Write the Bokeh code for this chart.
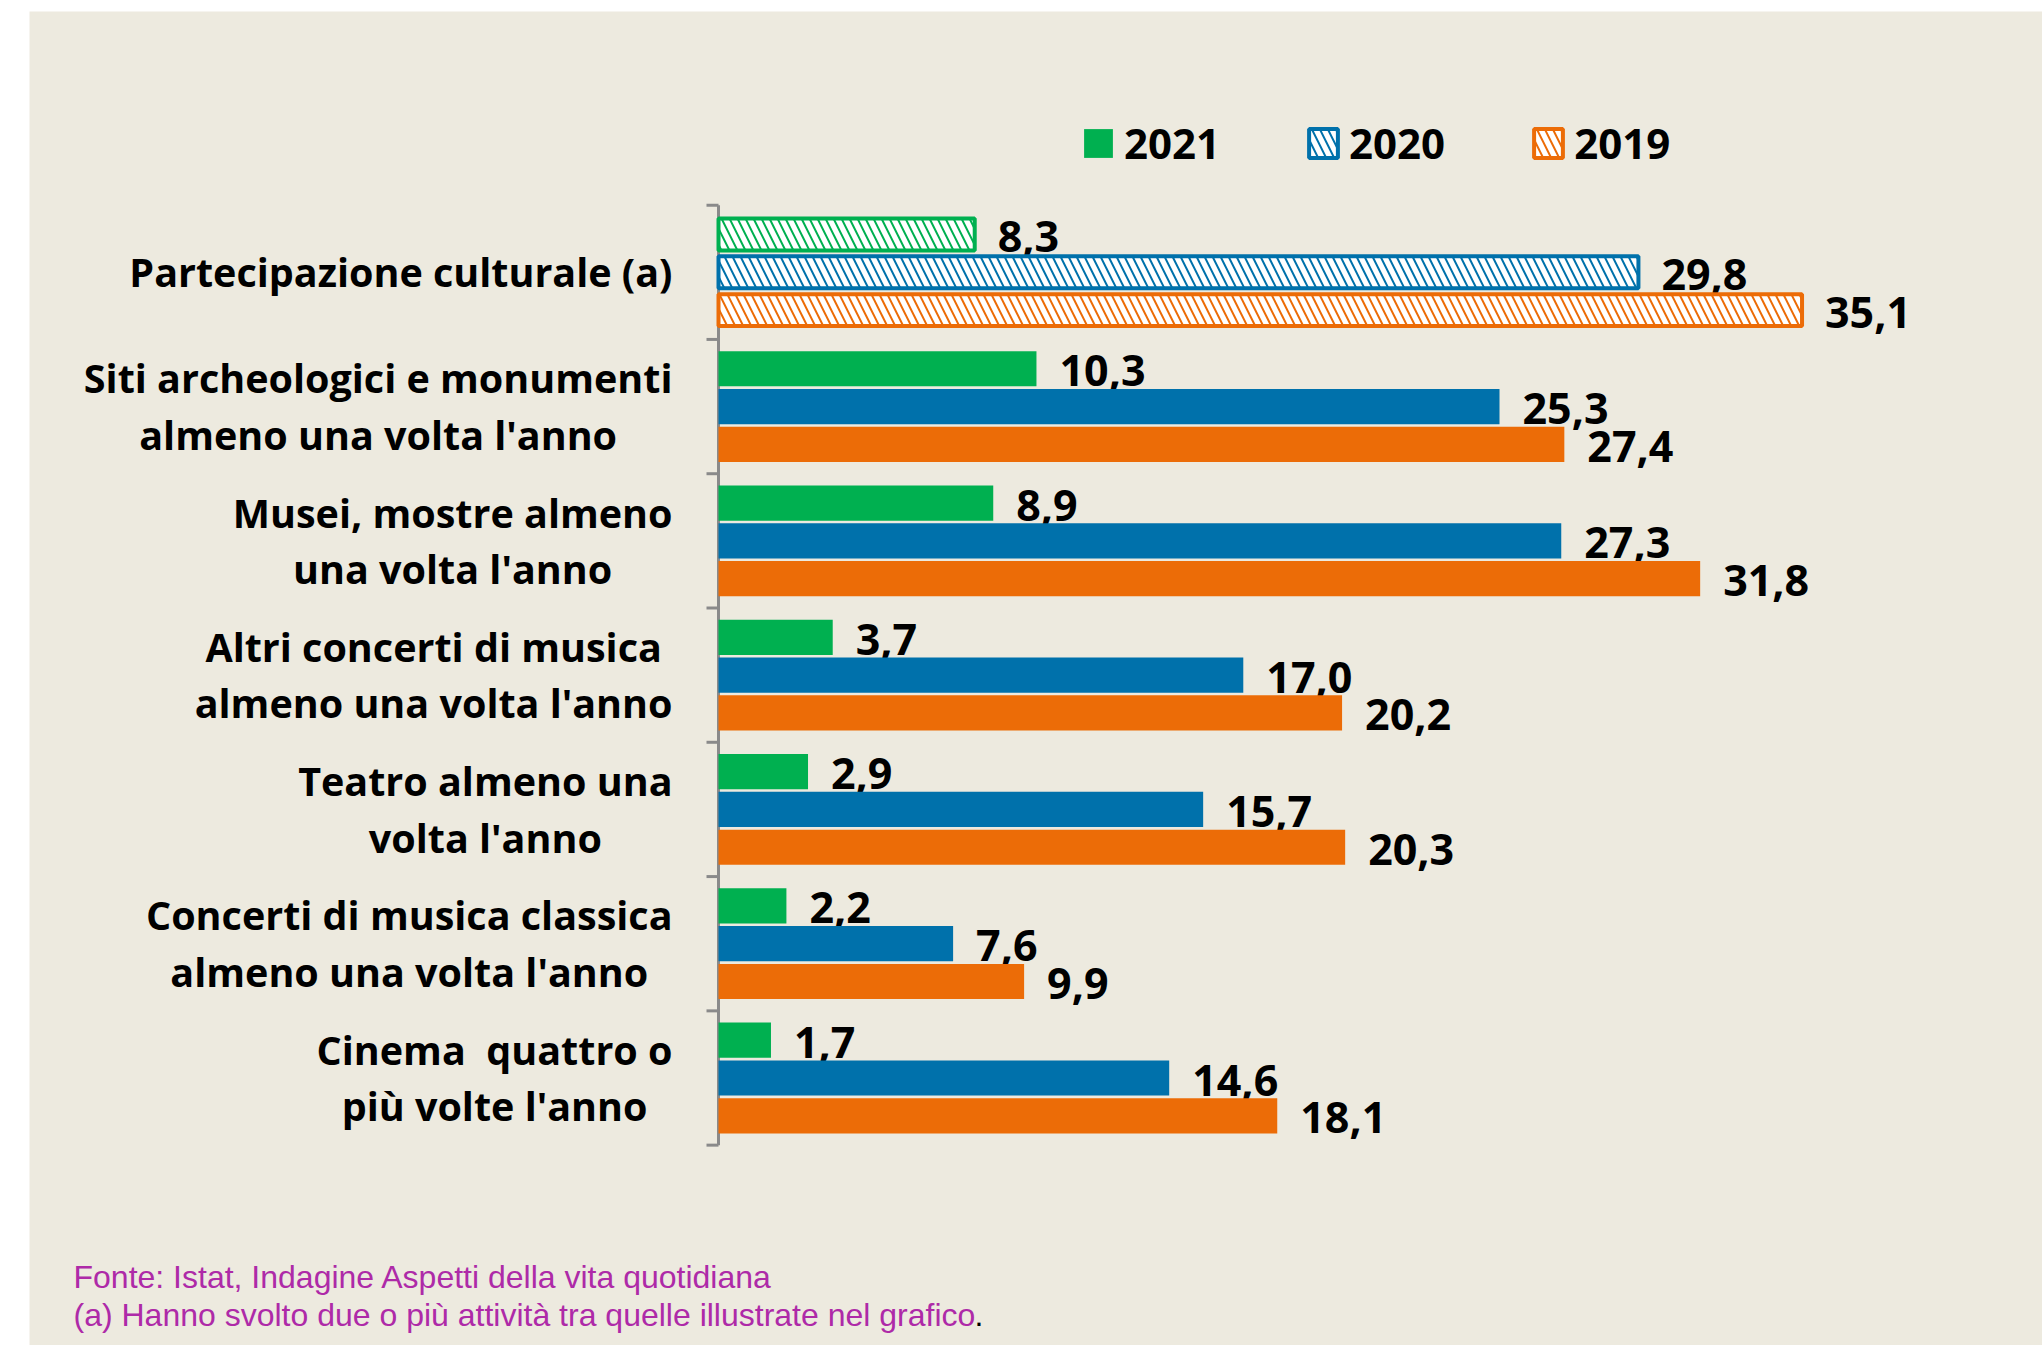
from bokeh.plotting import figure
from bokeh.models import (Range1d, Legend, LegendItem, Label,
                          ColumnDataSource, Spacer)
from bokeh.layouts import column, row
from bokeh.core.properties import value
from bokeh.embed import file_html
from bokeh.resources import INLINE
import numpy as np

# ---------------- data ----------------
categories = [
    "Partecipazione culturale (a)",
    "Siti archeologici e monumenti\nalmeno una volta l'anno",
    "Musei, mostre almeno\nuna volta l'anno",
    "Altri concerti di musica\nalmeno una volta l'anno",
    "Teatro almeno una\nvolta l'anno",
    "Concerti di musica classica\nalmeno una volta l'anno",
    "Cinema \u00a0quattro o\npiù volte l'anno",
]
years = ["2021", "2020", "2019"]
v2021 = [8.3, 10.3, 8.9, 3.7, 2.9, 2.2, 1.7]
v2020 = [29.8, 25.3, 27.3, 17.0, 15.7, 7.6, 14.6]
v2019 = [35.1, 27.4, 31.8, 20.2, 20.3, 9.9, 18.1]
series = {"2021": v2021, "2020": v2020, "2019": v2019}
colors = {"2021": "#00B050", "2020": "#0071AB", "2019": "#EC6C07"}
source_note = "Fonte: Istat, Indagine Aspetti della vita quotidiana"
note_a = "(a) Hanno svolto due o più attività tra quelle illustrate nel grafico"

BG = "#EDEADF"
FONT = "Open Sans"
AXIS_GRAY = "#8A8A8A"

n = len(categories)
centers = np.arange(n)[::-1] + 0.5          # top category first
bounds = np.arange(n + 1)
offsets = {"2021": 0.2816, "2020": 0.0, "2019": -0.2816}
bar_h = 0.262

W, H = 2013, 1334
AXIS_X = 689            # pixel position of the value 0 inside the figure
PX = 30.87              # pixels per percentage point
p = figure(width=W, height=H,
           x_range=Range1d(-AXIS_X / PX, (W - AXIS_X) / PX),
           y_range=Range1d(-1.492, 8.442),
           output_backend="svg", toolbar_location=None,
           x_axis_location=None, y_axis_location=None,
           min_border=0,
           background_fill_color=BG, border_fill_color=BG,
           outline_line_color=None)
p.grid.visible = False

# category axis: line + boundary ticks + labels
p.segment(x0=[0], y0=[bounds[0]], x1=[0], y1=[bounds[-1]],
          line_color=AXIS_GRAY, line_width=3)
p.segment(x0=np.full(n + 1, -12 / PX), y0=bounds, x1=np.zeros(n + 1), y1=bounds,
          line_color=AXIS_GRAY, line_width=3)
p.text(x=np.zeros(n), y=centers, text=categories, x_offset=-46,
       anchor=value("center_right"), text_align="center", text_baseline="middle",
       text_font=value(FONT), text_font_style="bold", text_font_size="39.5px",
       text_color="black", text_line_height=1.05)

legend_renderers = {}
for yr in years:
    vals = np.array(series[yr])
    ys = centers + offsets[yr]
    # hatched bar (first category)
    src_h = ColumnDataSource(dict(y=ys[:1], right=vals[:1]))
    rh = p.hbar(y="y", right="right", left=0, height=bar_h - 0.025, source=src_h,
                fill_color="white", line_color=colors[yr], line_width=4,
                hatch_pattern="\\", hatch_color=colors[yr], hatch_scale=16,
                hatch_weight=2)
    # solid bars
    src_s = ColumnDataSource(dict(y=ys[1:], right=vals[1:]))
    rs = p.hbar(y="y", right="right", left=0, height=bar_h, source=src_s,
                fill_color=colors[yr], line_color=None)
    legend_renderers[yr] = rs if yr == "2021" else rh
    # value labels
    src_t = ColumnDataSource(dict(x=vals, y=ys,
                                  t=[f"{v:.1f}".replace(".", ",") for v in vals]))
    p.text(x="x", y="y", text="t", source=src_t, x_offset=23, y_offset=2,
           text_baseline="middle", text_align="left",
           text_font=value(FONT), text_font_style="bold",
           text_font_size="43px", text_color="black")

legend = Legend(items=[LegendItem(label=yr, renderers=[legend_renderers[yr]]) for yr in years],
                orientation="horizontal", location=(1051, 1174),
                glyph_width=36, glyph_height=36, label_standoff=8, spacing=85,
                padding=0, margin=0, background_fill_alpha=0, border_line_alpha=0,
                label_text_font=FONT, label_text_font_style="bold",
                label_text_font_size="42px", label_text_color="black")
p.add_layout(legend, "center")

NOTE_COLOR = "#AE2AA8"
p.add_layout(Label(x=44, y=69, x_units="screen", y_units="screen", text=source_note,
                   text_font="Liberation Sans", text_font_size="32px",
                   text_color=NOTE_COLOR, text_baseline="middle"))
p.add_layout(Label(x=44, y=31, x_units="screen", y_units="screen", text=note_a,
                   text_font="Liberation Sans", text_font_size="32px",
                   text_color=NOTE_COLOR, text_baseline="middle"))
p.add_layout(Label(x=945, y=31, x_units="screen", y_units="screen", text=".",
                   text_font="Liberation Sans", text_font_size="32px",
                   text_color="black", text_baseline="middle"))

layout = column(Spacer(height=11), row(Spacer(width=29), p))
open("out.html", "w").write(file_html(layout, INLINE))
